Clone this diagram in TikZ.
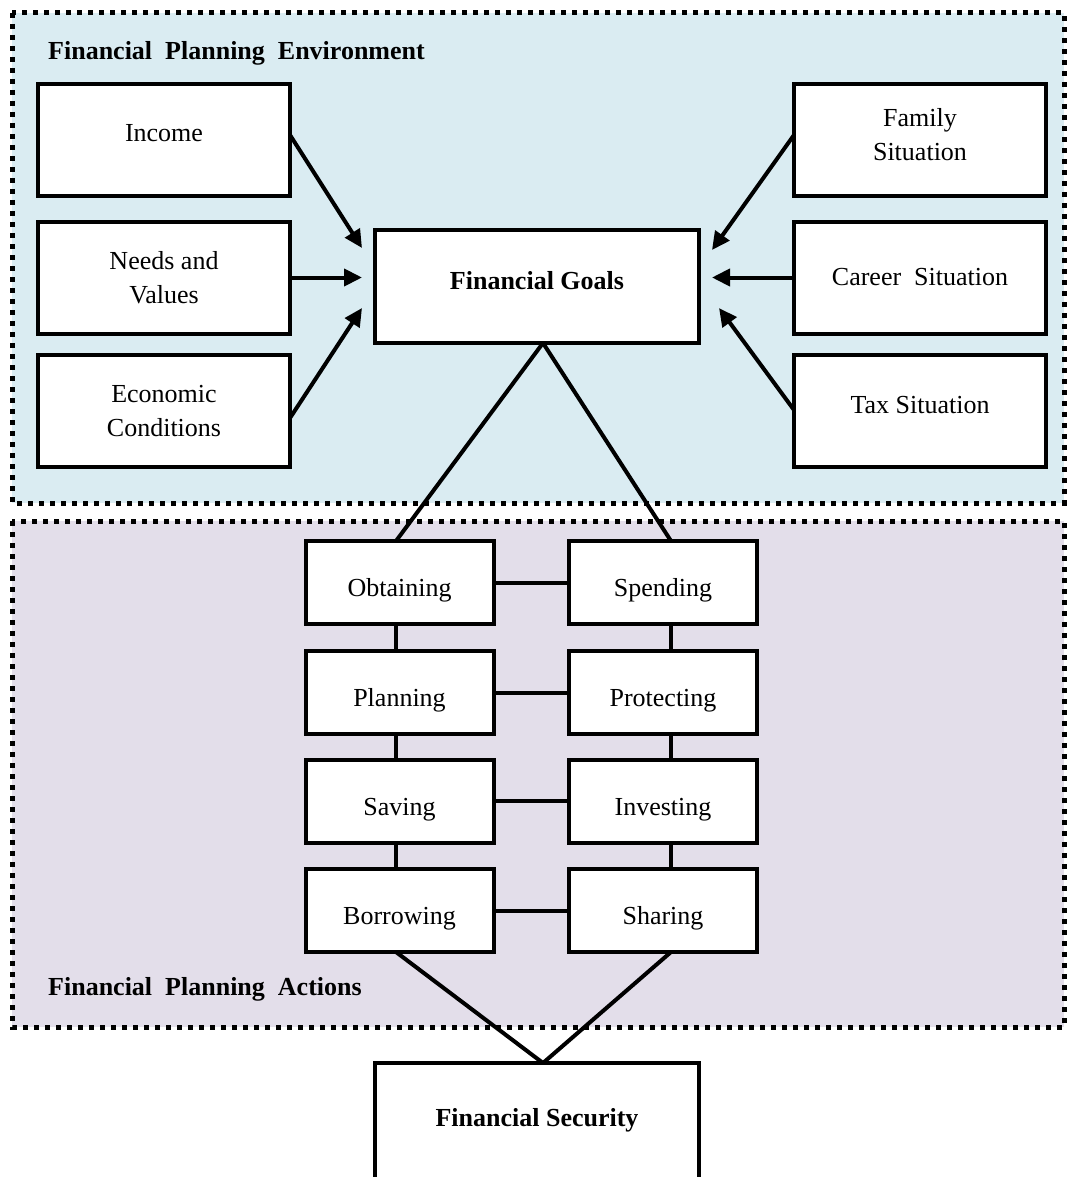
\documentclass[tikz,border=0pt]{standalone}
\usepackage{fontspec}
\setmainfont{Liberation Serif}
\usetikzlibrary{arrows.meta}
\definecolor{envblue}{RGB}{218,236,242}
\definecolor{actlav}{RGB}{227,222,234}
\begin{document}
\begin{tikzpicture}[x=1pt,y=-1pt,
  frame/.style={line width=5pt, dash pattern=on 5pt off 6pt},
  box/.style={draw, fill=white, line width=4pt, inner sep=0pt, outer sep=0pt,
    align=center, font=\fontsize{26}{34}\selectfont},
  sidebox/.style={box, minimum width=252pt, minimum height=112pt},
  bigbox/.style={box, minimum width=324pt, minimum height=113pt, font=\fontsize{26}{34}\selectfont\bfseries},
  actbox/.style={box, minimum width=188pt, minimum height=83pt, text height=28pt, text depth=0pt},
  conn/.style={line width=4pt},
  arr/.style={line width=4pt, -{Triangle[length=18pt,width=17pt]}},
  title/.style={anchor=west, inner sep=0pt, font=\fontsize{26}{30}\selectfont\bfseries}
]
\useasboundingbox (0,0) rectangle (1068,1177);
\clip (0,0) rectangle (1068,1177);

% frames
\path[frame, fill=envblue, draw=black] (12,13) rectangle (1064,503);
\path[frame, fill=actlav, draw=black] (12,521) rectangle (1064,1027);
\node[title] (envt) at (48,53) {Financial\ \ Planning\ \ Environment};
\node[title] (actt) at (48,989) {Financial\ \ Planning\ \ Actions};

% side boxes
\node[sidebox, text depth=14pt] (inc) at (164,140) {Income};
\node[sidebox] (nee) at (164,277.5) {Needs and\\Values};
\node[sidebox] (eco) at (164,411) {Economic\\Conditions};
\node[sidebox, text depth=12pt] (fam) at (920,140) {Family\\Situation};
\node[sidebox] (car) at (920,277.5) {Career\ \ Situation};
\node[sidebox, text depth=12pt] (tax) at (920,411) {Tax\ Situation};

% goals
\node[bigbox, text depth=12pt] (goal) at (537,286.5) {Financial Goals};
\node[bigbox, minimum height=126pt, text depth=18pt] (sec) at (537,1126) {Financial Security};

% action boxes
\node[actbox] (obt) at (399.5,582.5) {Obtaining};
\node[actbox] (pla) at (399.5,692.5) {Planning};
\node[actbox] (sav) at (399.5,801) {Saving};
\node[actbox] (bor) at (399.5,910.5) {Borrowing};
\node[actbox] (spe) at (663,582.5) {Spending};
\node[actbox] (pro) at (663,692.5) {Protecting};
\node[actbox] (inv) at (663,801) {Investing};
\node[actbox] (sha) at (663,910.5) {Sharing};

% helper coordinates
\coordinate (cl) at (396,0);
\coordinate (cr) at (671,0);
\coordinate (ax) at (543,0);
\coordinate (tinc) at (362,248);
\coordinate (tnee) at (362,277.5);
\coordinate (teco) at (362,308);
\coordinate (tfam) at (712,250);
\coordinate (tcar) at (712,277.5);
\coordinate (ttax) at (719,308);
\coordinate (sinc) at (292,135);
\coordinate (seco) at (292,418);
\coordinate (sfam) at (792,135);
\coordinate (stax) at (792,410);

% arrows
\draw[arr] (inc.east |- sinc) -- (tinc);
\draw[arr] (nee.east) -- (tnee);
\draw[arr] (eco.east |- seco) -- (teco);
\draw[arr] (fam.west |- sfam) -- (tfam);
\draw[arr] (car.west) -- (tcar);
\draw[arr] (tax.west |- stax) -- (ttax);

% goal to actions
\draw[conn] (goal.south -| ax) -- (obt.north -| cl);
\draw[conn] (goal.south -| ax) -- (spe.north -| cr);

% ladder
\draw[conn] (obt.south -| cl) -- (pla.north -| cl);
\draw[conn] (pla.south -| cl) -- (sav.north -| cl);
\draw[conn] (sav.south -| cl) -- (bor.north -| cl);
\draw[conn] (spe.south -| cr) -- (pro.north -| cr);
\draw[conn] (pro.south -| cr) -- (inv.north -| cr);
\draw[conn] (inv.south -| cr) -- (sha.north -| cr);
\draw[conn] (obt.east) -- (spe.west);
\draw[conn] (pla.east) -- (pro.west);
\draw[conn] (sav.east) -- (inv.west);
\draw[conn] (bor.east) -- (sha.west);

% actions to security
\draw[conn] (bor.south -| cl) -- (sec.north -| ax);
\draw[conn] (sha.south -| cr) -- (sec.north -| ax);
\end{tikzpicture}
\end{document}
